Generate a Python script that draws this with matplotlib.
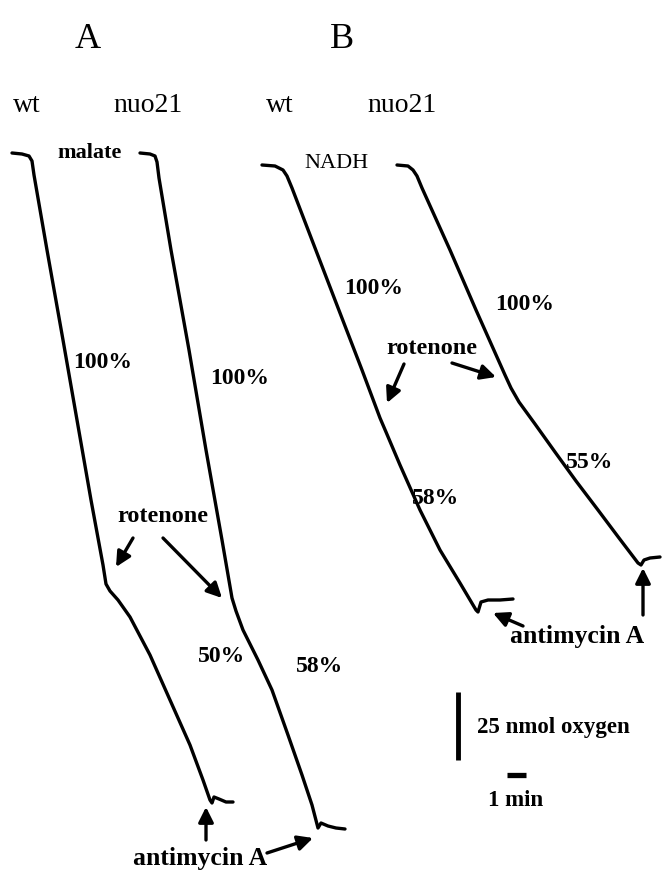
import matplotlib
matplotlib.use("Agg")
import matplotlib.pyplot as plt

# ---- trace data (page coordinates: x = time, y = O2 signal, downward) ----
a_wt_x = [12, 22, 29, 32, 34, 47, 63, 77, 91, 103, 106, 110, 118, 130, 150, 170, 190, 203, 210, 212, 214, 219, 226, 233]
a_wt_y = [153, 154, 156, 161, 175, 250, 340, 420, 500, 565, 584, 591, 600, 617, 655, 700, 745, 780, 800, 803, 797, 799, 802, 802]

a_nuo_x = [140, 150, 155, 157, 159, 171, 189, 206, 222, 232, 236, 243, 258, 272, 288, 302, 312, 318, 321, 328, 336, 345]
a_nuo_y = [153, 154, 156, 162, 178, 250, 350, 450, 540, 598, 611, 630, 660, 690, 735, 775, 805, 828, 823, 826, 828, 829]

b_wt_x = [262, 275, 283, 287, 292, 335, 362, 380, 386, 400, 420, 440, 460, 476, 478, 481, 488, 500, 513]
b_wt_y = [165, 166, 170, 176, 188, 300, 370, 418, 432, 465, 510, 550, 583, 610, 612, 602, 600, 600, 599]

b_nuo_x = [397, 408, 413, 417, 422, 450, 476, 505, 511, 519, 535, 555, 576, 598, 619, 638, 641, 644, 650, 660]
b_nuo_y = [165, 166, 170, 176, 188, 250, 310, 375, 388, 402, 424, 452, 481, 510, 538, 563, 565, 560, 558, 557]

# ---- labels ----
panel_labels = ["A", "B"]
strain_labels = ["wt", "nuo21", "wt", "nuo21"]
rate_labels = ["100%", "100%", "100%", "100%", "50%", "58%", "58%", "55%"]
substrates = ["malate", "NADH"]
inhibitors = ["rotenone", "antimycin A"]
scale_labels = ["25 nmol oxygen", "1 min"]

fig = plt.figure(figsize=(6.65, 8.73), dpi=100)
ax = fig.add_axes([0, 0, 1, 1])
ax.set_xlim(0, 665)
ax.set_ylim(873, 0)
ax.axis("off")

serif = ["Liberation Serif", "DejaVu Serif"]
lw = 2.4
for xs, ys in [(a_wt_x, a_wt_y), (a_nuo_x, a_nuo_y), (b_wt_x, b_wt_y), (b_nuo_x, b_nuo_y)]:
    ax.plot(xs, ys, color="black", lw=lw, solid_capstyle="round", solid_joinstyle="round")

# panel letters
ax.text(88, 40, panel_labels[0], family=serif, fontsize=26, ha="center", va="center")
ax.text(342, 40, panel_labels[1], family=serif, fontsize=26, ha="center", va="center")

# strain labels
for (x, y), s in zip([(27, 105), (148, 105), (280, 105), (402, 105)], strain_labels):
    ax.text(x, y, s, family=serif, fontsize=20, ha="center", va="center")

# substrates
ax.text(90, 153, substrates[0], family=serif, fontsize=16, fontweight="bold", ha="center", va="center")
ax.text(336, 164, substrates[1], family=serif, fontsize=16, ha="center", va="center")

# rate labels
rate_pos = [(103, 362), (240, 378), (374, 289), (525, 304), (222, 657), (320, 667), (436, 498), (590, 462)]
for (x, y), s in zip(rate_pos, rate_labels):
    ax.text(x, y, s, family=serif, fontsize=17, fontweight="bold", ha="center", va="center")

# inhibitor labels
ax.text(163, 516, inhibitors[0], family=serif, fontsize=17.5, fontweight="bold", ha="center", va="center")
ax.text(432, 348, inhibitors[0], family=serif, fontsize=17.5, fontweight="bold", ha="center", va="center")
ax.text(200, 859, inhibitors[1], family=serif, fontsize=18.5, fontweight="bold", ha="center", va="center")
ax.text(577, 637, inhibitors[1], family=serif, fontsize=18.5, fontweight="bold", ha="center", va="center")

# arrows
ap = dict(arrowstyle="-|>,head_length=0.9,head_width=0.45", color="black", lw=2.4, shrinkA=0, shrinkB=0)
arrows = [
    ((133, 538), (116, 567)),
    ((163, 538), (222, 598)),
    ((206, 840), (206, 807)),
    ((267, 853), (313, 838)),
    ((404, 364), (387, 403)),
    ((452, 363), (496, 377)),
    ((523, 626), (493, 613)),
    ((643, 615), (643, 568)),
]
for tail, head in arrows:
    ax.annotate("", xy=head, xytext=tail, arrowprops=ap)

# scale bars
ax.plot([458, 458], [692, 760], color="black", lw=3.5, solid_capstyle="butt")
ax.plot([507, 526], [775, 775], color="black", lw=3.8, solid_capstyle="butt")
ax.text(477, 727, scale_labels[0], family=serif, fontsize=16.5, fontweight="bold", ha="left", va="center")
ax.text(516, 801, scale_labels[1], family=serif, fontsize=16.5, fontweight="bold", ha="center", va="center")

fig.savefig("out.png", dpi=100)
